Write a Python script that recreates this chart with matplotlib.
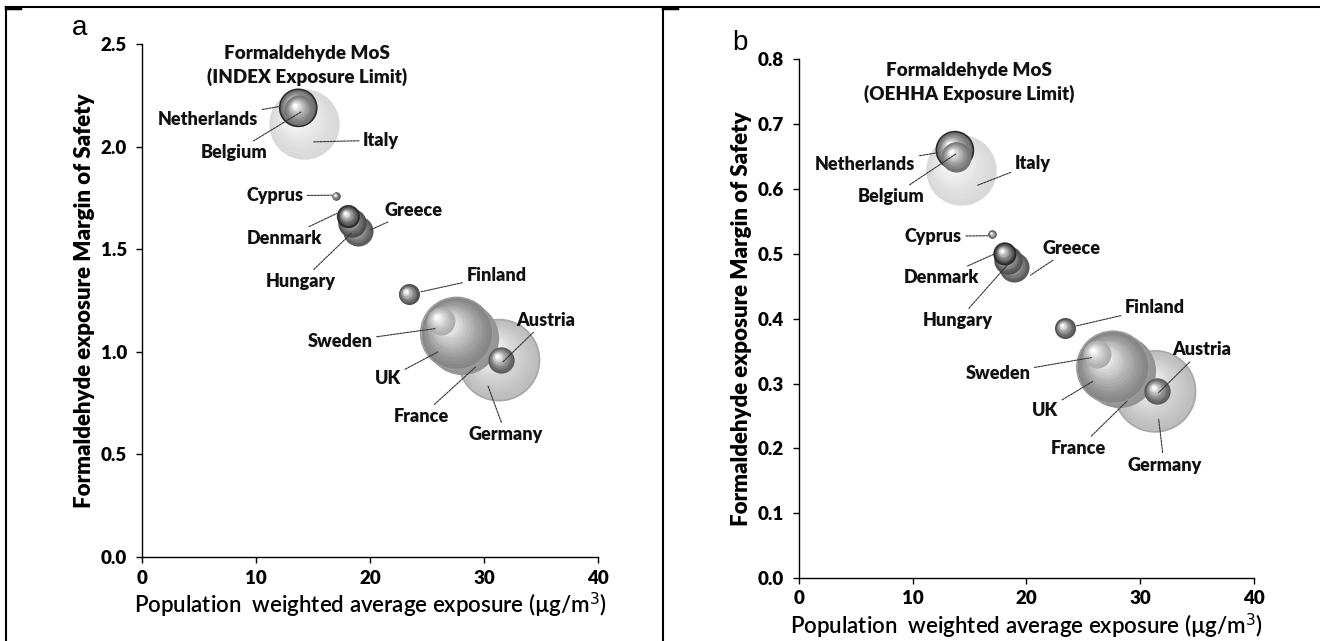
import numpy as np
import matplotlib.pyplot as plt
from matplotlib.transforms import ScaledTranslation
from matplotlib.lines import Line2D

plt.rcParams['font.family'] = ['Lato', 'DejaVu Sans']

countries = ['Netherlands', 'Belgium', 'Italy', 'Cyprus', 'Denmark', 'Hungary', 'Greece',
             'Finland', 'Sweden', 'UK', 'France', 'Austria', 'Germany']
exposure = [13.7, 13.8, 14.2, 17.0, 18.1, 18.4, 18.9, 23.4, 26.2, 27.6, 28.1, 31.5, 31.3]
mos_index = [2.19, 2.18, 2.11, 1.76, 1.66, 1.63, 1.59, 1.28, 1.15, 1.09, 1.07, 0.96, 0.96]
mos_oehha = [0.66, 0.65, 0.63, 0.53, 0.50, 0.49, 0.48, 0.385, 0.345, 0.325, 0.32, 0.288, 0.288]
population = [16.8, 11.1, 60.8, 0.86, 5.6, 9.9, 11.1, 5.4, 9.6, 63.7, 65.6, 8.5, 80.5]  # millions

# grey level of each sphere and optional rim
tone = {'Netherlands': 0.42, 'Belgium': 0.45, 'Italy': 0.85, 'Cyprus': 0.30, 'Denmark': 0.25,
        'Hungary': 0.30, 'Greece': 0.35, 'Finland': 0.30, 'Sweden': 0.68, 'UK': 0.52,
        'France': 0.58, 'Austria': 0.35, 'Germany': 0.74}
rim = {'Netherlands': '#2a2a2a', 'Denmark': '#2a2a2a', 'UK': '#9a9a9a', 'Germany': '#a8a8a8'}

# label text position, alignment and where the leader line ends
labels_a = {
    'Netherlands': (10.18, 2.135, 'right', 12.19, 2.198),
    'Belgium': (8.04, 1.97, 'center', 13.95, 2.17),
    'Italy': (19.39, 2.032, 'left', 15.05, 2.024),
    'Cyprus': (14.12, 1.761, 'right', 16.67, 1.764),
    'Greece': (21.3, 1.691, 'left', 20.0, 1.594),
    'Denmark': (12.46, 1.553, 'center', 17.08, 1.675),
    'Hungary': (13.95, 1.342, 'center', 18.37, 1.579),
    'Finland': (28.45, 1.374, 'left', 24.46, 1.293),
    'Sweden': (20.22, 1.049, 'right', 25.75, 1.114),
    'UK': (21.58, 0.871, 'center', 25.94, 1.0),
    'France': (24.46, 0.684, 'center', 29.26, 0.927),
    'Germany': (31.92, 0.595, 'center', 30.35, 0.833),
    'Austria': (35.43, 1.155, 'center', 31.67, 0.952),
}
labels_b = {
    'Netherlands': (10.24, 0.638, 'right', 12.2, 0.656),
    'Belgium': (8.13, 0.588, 'center', 13.86, 0.655),
    'Italy': (18.97, 0.639, 'left', 15.72, 0.606),
    'Cyprus': (14.31, 0.527, 'right', 16.64, 0.528),
    'Greece': (21.38, 0.509, 'left', 20.34, 0.467),
    'Denmark': (12.49, 0.463, 'center', 17.2, 0.50),
    'Hungary': (13.98, 0.397, 'center', 18.67, 0.49),
    'Finland': (28.66, 0.417, 'left', 24.41, 0.389),
    'Sweden': (20.34, 0.315, 'right', 25.7, 0.34),
    'UK': (21.64, 0.259, 'center', 25.89, 0.304),
    'France': (24.6, 0.2, 'center', 28.85, 0.273),
    'Germany': (32.1, 0.174, 'center', 31.62, 0.245),
    'Austria': (35.44, 0.352, 'center', 31.62, 0.286),
}

fig = plt.figure(figsize=(13.2, 6.41), dpi=100)
ax_a = fig.add_axes([0.1076, 0.131, 0.3455, 0.800])
ax_b = fig.add_axes([0.6053, 0.0983, 0.3447, 0.809])

AREA_PER_MILLION = 42.3  # points^2 per million people
BOLD = 'heavy'


def sphere(ax, x, y, s, base, z, edge=None, n=16):
    # fake 3D ball: stacked discs getting lighter and shifting up-left
    r = np.sqrt(s) / 2
    for k in range(n):
        t = k / (n - 1)
        rk = r * (1 - 0.88 * t)
        sh = (r - rk) * 0.35 / 72
        tr = ax.transData + ScaledTranslation(-sh, sh, fig.dpi_scale_trans)
        c = base + (1 - base) * t ** 1.3
        ax.scatter([x], [y], s=(2 * rk) ** 2, color=str(min(c, 1)), lw=0,
                   transform=tr, zorder=z + k * 0.001, clip_on=False)
    if edge is not None:
        ax.scatter([x], [y], s=s, facecolor='none', edgecolor=edge, lw=1.2,
                   zorder=z + 0.5, clip_on=False)


def panel(ax, mos, labels, ymax, ystep, title, title_xy, letter, letter_xy):
    order = np.argsort(population)[::-1]
    for rank, i in enumerate(order):
        name = countries[i]
        sphere(ax, exposure[i], mos[i], population[i] * AREA_PER_MILLION,
               tone[name], 2 + rank, rim.get(name))
    for name, (tx, ty, ha, lx, ly) in labels.items():
        ax.annotate(name, xy=(lx, ly), xytext=(tx, ty), ha=ha, va='center',
                    fontsize=13, fontweight=BOLD, color='#111', zorder=30,
                    arrowprops=dict(arrowstyle='-', color='#333', lw=0.8,
                                    linestyle=(0, (2, 1)), shrinkA=1, shrinkB=0))
    ax.text(title_xy[0], title_xy[1], title, ha='center', va='center',
            fontsize=13.5, fontweight=BOLD, linespacing=1.4, color='#111')

    ax.set_xlim(0, 40)
    ax.set_ylim(0, ymax)
    ax.set_xticks(np.arange(0, 41, 10))
    ax.set_yticks(np.arange(0, ymax + 1e-9, ystep))
    ax.yaxis.set_major_formatter(plt.FormatStrFormatter('%.1f'))
    for sp in ['top', 'right']:
        ax.spines[sp].set_visible(False)
    for sp in ['left', 'bottom']:
        ax.spines[sp].set_linewidth(1.0)
    ax.tick_params(direction='out', length=4, width=1, labelsize=13.5)
    ax.tick_params(axis='y', pad=7)
    ax.tick_params(axis='x', pad=5)
    for lab in ax.get_xticklabels() + ax.get_yticklabels():
        lab.set_fontweight(BOLD)
    ax.set_xlabel('Population  weighted average exposure (\u00b5g/m$^3$)',
                  fontsize=16, fontweight='semibold', labelpad=3)
    ax.set_ylabel('Formaldehyde exposure Margin of Safety', fontsize=16,
                  fontweight=BOLD, labelpad=4)
    fig.text(letter_xy[0] / 1320, 1 - letter_xy[1] / 641, letter, fontsize=20,
             family='Liberation Sans', ha='center', va='center')


panel(ax_a, mos_index, labels_a, 2.5, 0.5,
      'Formaldehyde MoS\n(INDEX Exposure Limit)', (14.47, 2.395), 'a', (80, 28))
panel(ax_b, mos_oehha, labels_b, 0.8, 0.1,
      'Formaldehyde MoS\n(OEHHA Exposure Limit)', (14.95, 0.764), 'b', (740, 43))

# table borders around the two panels
W, H = 1320, 641
def seg(x0, y0, x1, y1, lw=1.5):
    fig.add_artist(Line2D([x0 / W, x1 / W], [1 - y0 / H, 1 - y1 / H], color='black',
                          lw=lw, transform=fig.transFigure))

seg(6, 7, W, 7)
seg(6, 7, 6, H)
seg(663, 7, 663, H)
seg(6, 8, 20, 8, lw=2.5)
seg(663, 8, 677, 8, lw=2.5)

fig.savefig('out.png', dpi=100, facecolor='white')
